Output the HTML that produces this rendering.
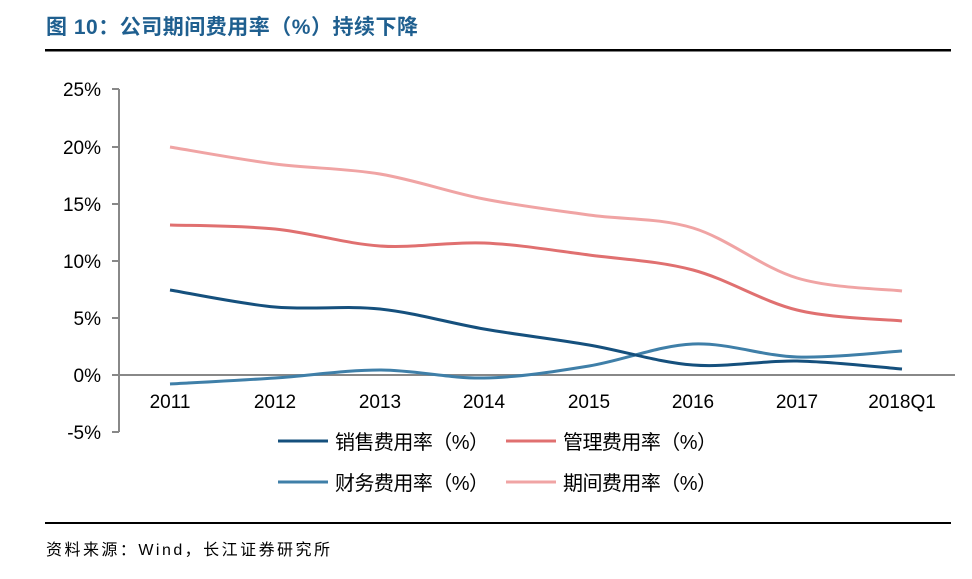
<!DOCTYPE html>
<html><head><meta charset="utf-8"><style>
body{margin:0;background:#fff;width:972px;height:574px;overflow:hidden}
svg text{font-family:"Liberation Sans","Noto Sans CJK SC",sans-serif}
</style></head><body>
<svg id="s" width="972" height="574" xmlns="http://www.w3.org/2000/svg">
<text x="46" y="34" font-size="21" fill="#1f5f8f" font-weight="bold" textLength="372">图 10：公司期间费用率（%）持续下降</text>
<rect x="45" y="49" width="906" height="2.5" fill="#000"/>
<rect x="45" y="522" width="906" height="2" fill="#000"/>
<text x="46" y="555" font-size="16" fill="#000" textLength="284">资料来源：Wind，长江证券研究所</text>
<g stroke="#888" stroke-width="2" fill="none">
<line x1="119" y1="89" x2="119" y2="432"/>
<line x1="112" y1="89" x2="119" y2="89"/><line x1="112" y1="147" x2="119" y2="147"/>
<line x1="112" y1="204" x2="119" y2="204"/><line x1="112" y1="261" x2="119" y2="261"/>
<line x1="112" y1="318" x2="119" y2="318"/><line x1="112" y1="375" x2="119" y2="375"/>
<line x1="112" y1="432" x2="119" y2="432"/>
<line x1="119" y1="375" x2="955" y2="375"/>
</g>
<g font-size="19" fill="#000" text-anchor="end">
<text x="101" y="96">25%</text><text x="101" y="154">20%</text><text x="101" y="211">15%</text>
<text x="101" y="268">10%</text><text x="101" y="325">5%</text><text x="101" y="382">0%</text><text x="101" y="439">-5%</text>
</g>
<g font-size="19" fill="#000" text-anchor="middle">
<text x="170" y="408">2011</text><text x="275" y="408">2012</text><text x="380" y="408">2013</text>
<text x="484" y="408">2014</text><text x="589" y="408">2015</text><text x="693" y="408">2016</text>
<text x="797" y="408">2017</text><text x="902" y="408">2018Q1</text>
</g>
<g stroke-width="3">
<line x1="278" y1="441" x2="328" y2="441" stroke="#15507d"/>
<line x1="506" y1="441" x2="556" y2="441" stroke="#e07070"/>
<line x1="278" y1="482" x2="328" y2="482" stroke="#3f7fa8"/>
<line x1="506" y1="482" x2="556" y2="482" stroke="#f0a4a4"/>
</g>
<g font-size="20" fill="#000">
<text x="335" y="449" textLength="154">销售费用率（%）</text><text x="563" y="449" textLength="154">管理费用率（%）</text>
<text x="335" y="490" textLength="154">财务费用率（%）</text><text x="563" y="490" textLength="154">期间费用率（%）</text>
</g>
<g id="lines" fill="none" stroke-width="3"></g>
</svg>
<script>
var xs=[170,275,380,484,589,693,797,902];
var S=[
["#f0a4a4",[147,164,174,199,215,228,278,291]],
["#e07070",[225,229,246,243,255,270,310,321]],
["#3f7fa8",[384,378,370,378,366,344,357,351]],
["#15507d",[290,307,309,329,345,365,361,369]]];
var g=document.getElementById('lines');
S.forEach(function(s){var y=s[1],d="M"+xs[0]+","+y[0];
for(var i=0;i<7;i++){var p0=i?i-1:0,p3=i<6?i+2:7;
var c1x=xs[i]+(xs[i+1]-xs[p0])/6,c1y=y[i]+(y[i+1]-y[p0])/6,
c2x=xs[i+1]-(xs[p3]-xs[i])/6,c2y=y[i+1]-(y[p3]-y[i])/6;
d+=" C"+c1x+","+c1y+" "+c2x+","+c2y+" "+xs[i+1]+","+y[i+1];}
var p=document.createElementNS("http://www.w3.org/2000/svg","path");
p.setAttribute("d",d);p.setAttribute("stroke",s[0]);g.appendChild(p);});
</script>
</body></html>
